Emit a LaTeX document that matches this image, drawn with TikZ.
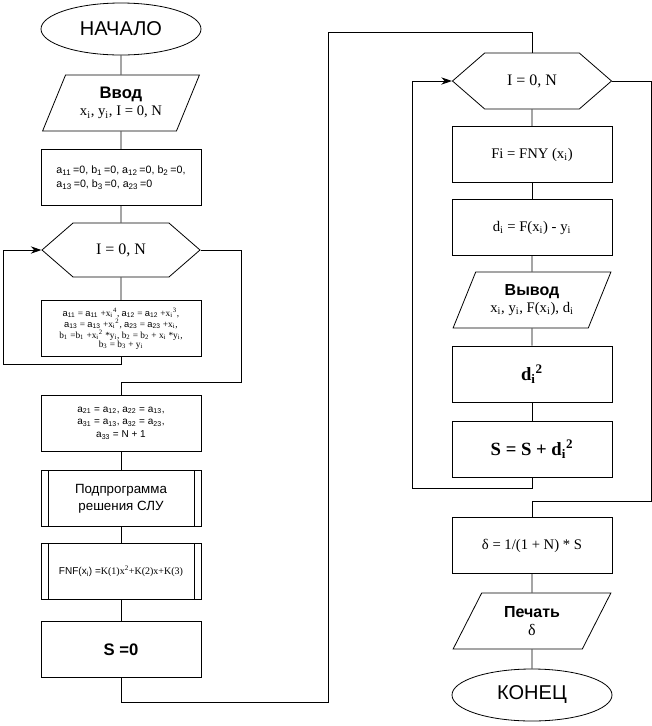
\documentclass[tikz,border=0pt]{standalone}
\usepackage{fontspec}
\setmainfont{Liberation Serif}
\setsansfont{Liberation Sans}
\usepackage{tikz}
\usetikzlibrary{arrows.meta,shapes.geometric,shapes.symbols}
\newcommand{\sbs}[1]{\textsubscript{#1}}
\newcommand{\sps}[1]{\textsuperscript{#1}}
\tikzset{
  term/.style={draw, ellipse, minimum width=120pt, minimum height=39pt,
               inner sep=0pt, font=\sffamily\fontsize{15}{18}\selectfont},
  io/.style={draw, trapezium, trapezium left angle=62, trapezium right angle=118,
             trapezium stretches=true, minimum width=118.5pt, minimum height=42pt,
             inner sep=0pt, align=center, font=\fontsize{11}{13}\selectfont},
  proc/.style={draw, rectangle, minimum width=120pt, minimum height=42pt,
               inner sep=2pt, align=center},
  cyc/.style={draw, signal, signal to=west and east, signal pointer angle=82,
              minimum width=118.5pt, minimum height=40.5pt, inner sep=0pt,
              font=\fontsize{12}{14}\selectfont},
  subr/.style={proc, path picture={
      \draw ([xshift=5.25pt]path picture bounding box.north west)
         -- ([xshift=5.25pt]path picture bounding box.south west);
      \draw ([xshift=-5.25pt]path picture bounding box.north east)
         -- ([xshift=-5.25pt]path picture bounding box.south east);}},
  hd/.style={font=\sffamily\bfseries\fontsize{12.5}{15}\selectfont},
  back/.style={-{Stealth[length=8pt,width=5.5pt]}},
}
\begin{document}
\begin{tikzpicture}[x=0.75pt, y=-0.75pt, line width=0.6pt]
    \useasboundingbox (0,0) rectangle (652,726);

    % left column
    \node[term] (start) at (121,29) {НАЧАЛО};
    \node[io] (in) at (121,103) {{\sffamily\bfseries\fontsize{12.5}{15}\selectfont Ввод}\\
      x\sbs{i}, y\sbs{i}, I = 0, N};
    \node[proc, align=left, font=\sffamily\fontsize{8}{10.5}\selectfont] (init) at (121,177.5)
      {a\sbs{11}\,=0,\ b\sbs{1}\,=0, a\sbs{12}\,=0,\ b\sbs{2}\,=0,\\
       a\sbs{13}\,=0,\ b\sbs{3}\,=0, a\sbs{23}\,=0};
    \node[cyc] (cyc1) at (121,250) {I = 0, N};
    \node[proc, font=\fontsize{7}{6.6}\selectfont] (body) at (121,328.5)
      {{\sffamily a\sbs{11}} = {\sffamily a\sbs{11}} +x\sbs{i}\sps{4}, {\sffamily a\sbs{12}} = {\sffamily a\sbs{12}} +x\sbs{i}\sps{3},\\
       {\sffamily a\sbs{13}} = {\sffamily a\sbs{13}} +x\sbs{i}\sps{2}, {\sffamily a\sbs{23}} = {\sffamily a\sbs{23}} +x\sbs{i},\\
       b\sbs{1} =b\sbs{1} +x\sbs{i}\sps{2} *y\sbs{i}, b\sbs{2} = b\sbs{2} + x\sbs{i} *y\sbs{i},\\
       b\sbs{3} = b\sbs{3} + y\sbs{i}};
    \node[proc, font=\sffamily\fontsize{7.5}{9.5}\selectfont] (coef) at (121,423)
      {a\sbs{21} = a\sbs{12}, a\sbs{22} = a\sbs{13},\\
       a\sbs{31} = a\sbs{13}, a\sbs{32} = a\sbs{23},\\
       a\sbs{33} = N + 1};
    \node[subr, font=\sffamily\fontsize{10}{12.5}\selectfont] (slu) at (121,498.5)
      {Подпрограмма\\решения СЛУ};
    \node[subr, font=\fontsize{7.5}{9}\selectfont] (fnf) at (121,571)
      {{\sffamily FNF(x\sbs{i}) =}K(1)x\sps{2}+K(2)x+K(3)};
    \node[proc, hd] (s0) at (121,649.5) {S =0};

    % right column
    \node[cyc, minimum width=119.25pt, minimum height=42pt] (cyc2) at (532,81) {I = 0, N};
    \node[proc, font=\fontsize{11}{13}\selectfont] (fi) at (532,154.5) {Fi = FNY (x\sbs{i})};
    \node[proc, font=\fontsize{11}{13}\selectfont] (di) at (532,227.5)
      {d\sbs{i} = F(x\sbs{i}) - y\sbs{i}};
    \node[io] (out) at (532,300) {{\sffamily\bfseries\fontsize{12}{14}\selectfont Вывод}\\
      x\sbs{i}, y\sbs{i}, F(x\sbs{i}), d\sbs{i}};
    \node[proc, font=\bfseries\fontsize{14}{16}\selectfont] (dsq) at (532,374) {d\sbs{i}\sps{2}};
    \node[proc, font=\bfseries\fontsize{14}{16}\selectfont] (sum) at (532,449)
      {S = S + d\sbs{i}\sps{2}};
    \node[proc, font=\fontsize{11}{13}\selectfont] (delta) at (532,545.5) {δ = 1/(1 + N) * S};
    \node[io, font=\fontsize{12}{14}\selectfont] (print) at (532,621)
      {{\sffamily\bfseries Печать}\\δ};
    \node[term] (stop) at (532,695) {КОНЕЦ};

    % connectors
    \draw (start) -- (in);
    \draw (in) -- (init);
    \draw (init) -- (cyc1);
    \draw (cyc1) -- (body);
    \draw[back] (body.south) |- (3,364) |- (cyc1.west);
    \draw (cyc1.east) -| (241,382) -| (coef.north);
    \draw (coef) -- (slu);
    \draw (slu) -- (fnf);
    \draw (fnf) -- (s0);
    \draw (s0.south) |- (328,702) |- (532,32) -- (cyc2.north);
    \draw (cyc2) -- (fi);
    \draw (fi) -- (di);
    \draw (di) -- (out);
    \draw (out) -- (dsq);
    \draw (dsq) -- (sum);
    \draw[back] (sum.south) |- (412,488) |- (cyc2.west);
    \draw (cyc2.east) -| (651,501) -| (delta.north);
    \draw (delta) -- (print);
    \draw (print) -- (stop);
  \end{tikzpicture}
\end{document}
